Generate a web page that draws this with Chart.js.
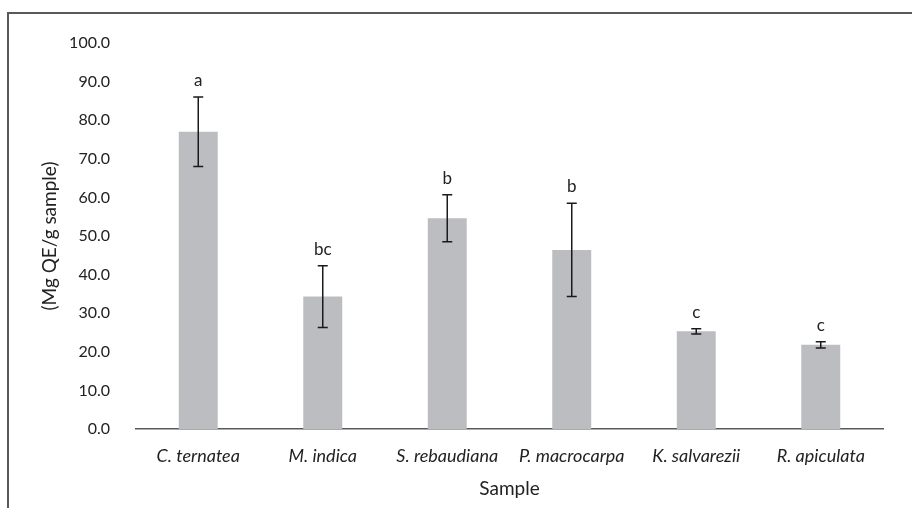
<!DOCTYPE html>
<html>
<head>
<meta charset="utf-8">
<script src="https://cdn.jsdelivr.net/npm/chart.js@4/dist/chart.umd.min.js"></script>
<style>
  html, body { margin: 0; padding: 0; background: #ffffff; }
  #wrap { width: 912px; height: 508px; position: relative; }
</style>
</head>
<body>
<div id="wrap"><canvas id="chart" width="912" height="508"></canvas></div>
<script>
// Plant extracts: mean flavonoid content with standard deviation and significance groups
const categories = ['C. ternatea', 'M. indica', 'S. rebaudiana', 'P. macrocarpa', 'K. salvarezii', 'R. apiculata'];
const meanValues = [77.0, 34.3, 54.6, 46.4, 25.3, 21.8];
const errorValues = [9.0, 8.0, 6.1, 12.1, 0.7, 0.8];
const groupLetters = ['a', 'bc', 'b', 'b', 'c', 'c'];
const yTickValues = [0, 10, 20, 30, 40, 50, 60, 70, 80, 90, 100];

const FONT = 'Lato, "Open Sans", sans-serif';
const TEXT_COLOR = '#222222';

// Open frame around the figure (left and top edges)
const framePlugin = {
  id: 'frame',
  beforeDraw(chart) {
    const ctx = chart.ctx;
    ctx.save();
    ctx.fillStyle = '#ffffff';
    ctx.fillRect(0, 0, chart.width, chart.height);
    ctx.strokeStyle = '#595959';
    ctx.lineWidth = 2;
    ctx.beginPath();
    ctx.moveTo(8, chart.height);
    ctx.lineTo(8, 13);
    ctx.lineTo(chart.width, 13);
    ctx.stroke();
    ctx.restore();
  }
};

// Error bars with caps, plus the group letter above each bar
const errorBarPlugin = {
  id: 'errorBars',
  afterDatasetsDraw(chart) {
    const ctx = chart.ctx;
    const yScale = chart.scales.y;
    const meta = chart.getDatasetMeta(0);
    ctx.save();
    ctx.strokeStyle = '#1a1a1a';
    ctx.lineWidth = 1.5;
    meta.data.forEach((bar, i) => {
      const x = bar.x;
      const top = yScale.getPixelForValue(meanValues[i] + errorValues[i]);
      const bottom = yScale.getPixelForValue(meanValues[i] - errorValues[i]);
      const cap = 5;
      ctx.beginPath();
      ctx.moveTo(x, top);
      ctx.lineTo(x, bottom);
      ctx.moveTo(x - cap, top);
      ctx.lineTo(x + cap, top);
      ctx.moveTo(x - cap, bottom);
      ctx.lineTo(x + cap, bottom);
      ctx.stroke();

      ctx.fillStyle = TEXT_COLOR;
      ctx.font = '17px ' + FONT;
      ctx.textAlign = 'center';
      ctx.textBaseline = 'alphabetic';
      ctx.fillText(groupLetters[i], x, top - 11);
    });
    ctx.restore();
  }
};

new Chart(document.getElementById('chart'), {
  type: 'bar',
  data: {
    labels: categories,
    datasets: [{
      data: meanValues,
      backgroundColor: '#bcbdc1',
      borderWidth: 0,
      barPercentage: 0.313,
      categoryPercentage: 1.0
    }]
  },
  options: {
    responsive: false,
    animation: false,
    devicePixelRatio: 1,
    layout: { padding: { top: 43, right: 29, left: 20, bottom: 5 } },
    plugins: {
      legend: { display: false },
      tooltip: { enabled: false }
    },
    scales: {
      x: {
        grid: { display: false },
        border: { display: true, color: '#595959', width: 1.5 },
        ticks: {
          color: TEXT_COLOR,
          padding: 8,
          font: { family: FONT, size: 18, style: 'italic' },
          maxRotation: 0,
          autoSkip: false
        },
        title: {
          display: true,
          text: 'Sample',
          color: TEXT_COLOR,
          font: { family: FONT, size: 19 },
          padding: { top: 3, bottom: 3 }
        },
        afterFit(scale) { scale.height = 508 - 5 - 429; }
      },
      y: {
        min: 0,
        max: 100,
        grid: { display: false },
        border: { display: false },
        afterBuildTicks(scale) { scale.ticks = yTickValues.map(v => ({ value: v })); },
        ticks: {
          color: TEXT_COLOR,
          padding: 18,
          font: { family: FONT, size: 16 },
          callback: v => Number(v).toFixed(1)
        },
        title: {
          display: true,
          text: '(Mg QE/g sample)',
          color: TEXT_COLOR,
          font: { family: FONT, size: 19 },
          padding: { top: 18, bottom: 0 }
        },
        afterFit(scale) { scale.width = 136 - 20; }
      }
    }
  },
  plugins: [framePlugin, errorBarPlugin]
});
</script>
</body>
</html>
